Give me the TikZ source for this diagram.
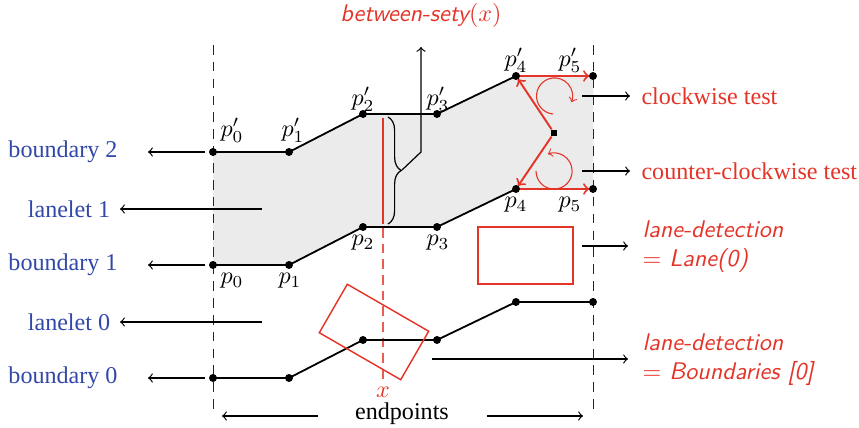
\documentclass[tikz,border=0pt]{standalone}
\usepackage{fontspec}
\setmainfont{Liberation Serif}
\usetikzlibrary{decorations.pathreplacing}
\definecolor{myblue}{RGB}{50,72,168}
\definecolor{myred}{RGB}{228,52,40}
\definecolor{lanegray}{RGB}{235,235,235}
\begin{document}
\begin{tikzpicture}[x=0.415pt,y=0.415pt,
  bnd/.style={line width=0.75pt},
  dotp/.style={fill=black},
  blbl/.style={text=myblue},
  rlbl/.style={text=myred},
  arr/.style={->,line width=0.5pt},
  rarr/.style={->,draw=myred,line width=0.8pt,shorten >=1.5pt},
  rarc/.style={->,draw=myred,line width=0.45pt},
  vdash/.style={draw=black!85,line width=0.4pt,dash pattern=on 4pt off 3pt},
  rsf/.style={font=\sffamily\itshape}]
\useasboundingbox (0,0) rectangle (859,428);

% boundary points
\coordinate (u0) at (213,276); \coordinate (u1) at (289,276);
\coordinate (u2) at (363,314); \coordinate (u3) at (437,314);
\coordinate (u4) at (516,352); \coordinate (u5) at (593,352);
\coordinate (m0) at (213,163); \coordinate (m1) at (289,163);
\coordinate (m2) at (363,201); \coordinate (m3) at (437,201);
\coordinate (m4) at (516,239); \coordinate (m5) at (593,239);
\coordinate (l0) at (213,50); \coordinate (l1) at (289,50);
\coordinate (l2) at (363,88); \coordinate (l3) at (437,88);
\coordinate (l4) at (516,126); \coordinate (l5) at (593,126);

% lanelet 1 fill
\fill[lanegray] (u0)--(u1)--(u2)--(u3)--(u4)--(u5)--(m5)--(m4)--(m3)--(m2)--(m1)--(m0)--cycle;

% dashed verticals
\coordinate (dlt) at (213,383); \coordinate (dlb) at (213,16);
\coordinate (drt) at (593,383); \coordinate (drb) at (593,16);
\draw[vdash] (dlt) -- (dlb);
\draw[vdash] (drt) -- (drb);

% left labels and arrows
\node[blbl] (bd2) at (63,276) {boundary 2};
\node[blbl] (ll1) at (69,219) {lanelet 1};
\node[blbl] (bd1) at (63,163) {boundary 1};
\node[blbl] (ll0) at (69,106) {lanelet 0};
\node[blbl] (bd0) at (63,50) {boundary 0};
\coordinate (bd2s) at (205,276); \coordinate (bd2e) at (148,276);
\coordinate (ll1s) at (262,219); \coordinate (ll1e) at (120,219);
\coordinate (bd1s) at (205,163); \coordinate (bd1e) at (148,163);
\coordinate (ll0s) at (262,106); \coordinate (ll0e) at (120,106);
\coordinate (bd0s) at (205,50); \coordinate (bd0e) at (148,50);
\draw[arr] (bd2s) -- (bd2e);
\draw[arr] (ll1s) -- (ll1e);
\draw[arr] (bd1s) -- (bd1e);
\draw[arr] (ll0s) -- (ll0e);
\draw[arr] (bd0s) -- (bd0e);

% between-sety
\draw[myred,line width=0.5pt] (383,310) -- (383,204);
\coordinate (xd1) at (383,200); \coordinate (xd2) at (383,48);
\draw[myred!80,line width=0.45pt,dash pattern=on 4pt off 2.5pt] (xd1) -- (xd2);
\node[rlbl] (xl) at (383,36) {$x$};
\draw[decorate,decoration={brace,amplitude=5.5pt},line width=0.5pt] (388,311) -- (388,204);
\coordinate (bt) at (402,258); \coordinate (bk) at (421,276); \coordinate (bu) at (421,381);
\draw[arr] (bt) -- (bk) -- (bu);
\node[rlbl] (bsl) at (421,413) {{\sffamily\itshape between-sety}$(x)$};

% boundaries
\draw[bnd] (u0)--(u1)--(u2)--(u3)--(u4)--(u5);
\draw[bnd] (m0)--(m1)--(m2)--(m3)--(m4)--(m5);
\draw[bnd] (l0)--(l1)--(l2)--(l3)--(l4)--(l5);

% rotated rectangle
\draw[myred,line width=0.6pt,rotate around={-30:(374,96)}] (327,68) rectangle (421,124);

% right red construction
\node[fill=black,inner sep=0pt,minimum size=2.6pt] (sq) at (554,295) {};
\draw[rarr] (u4) -- (u5);
\draw[rarr] (m4) -- (m5);
\draw[rarr] (sq) -- (u4);
\draw[rarr] (sq) -- (m4);
\draw[rarc] (553,314) arc[start angle=265,end angle=-20,radius=7.5pt];
\draw[rarc] (536,257) arc[start angle=180,end angle=470,radius=7.5pt];

% dots
\foreach \p in {u0,u1,u2,u3,u4,u5,m0,m1,m2,m3,m4,m5,l0,l1,l2,l3,l4,l5}
  \fill[dotp] (\p) circle[radius=1.65pt];

% point labels
\node (lu0) at (232,298) {$p_0'$};
\node (lu1) at (293,298) {$p_1'$};
\node (lu2) at (363,329) {$p_2'$};
\node (lu3) at (438,329) {$p_3'$};
\node (lu4) at (516,368) {$p_4'$};
\node (lu5) at (570,368) {$p_5'$};
\node (lm0) at (232,147) {$p_0$};
\node (lm1) at (290,147) {$p_1$};
\node (lm2) at (363,185) {$p_2$};
\node (lm3) at (438,185) {$p_3$};
\node (lm4) at (516,223) {$p_4$};
\node (lm5) at (570,223) {$p_5$};

% right labels
\coordinate (cws) at (582,332); \coordinate (cwe) at (630,332);
\coordinate (ccs) at (582,257); \coordinate (cce) at (630,257);
\draw[arr] (cws) -- (cwe);
\draw[arr] (ccs) -- (cce);
\node[rlbl,anchor=west] (cwl) at (633,332) {clockwise test};
\node[rlbl,anchor=west] (ccl) at (633,257) {counter-clockwise test};

\draw[myred,line width=0.6pt] (478,201) rectangle (573,144);
\coordinate (lds) at (582,182); \coordinate (lde) at (628,182);
\draw[arr] (lds) -- (lde);
\node[rlbl,anchor=west,align=left,rsf] (ldl) at (634,181) {lane-detection\\$=$ Lane(0)};
\coordinate (bds) at (432,69); \coordinate (bde) at (628,69);
\draw[arr] (bds) -- (bde);
\node[rlbl,anchor=west,align=left,rsf] (bdl) at (634,68) {lane-detection\\$=$ Boundaries [0]};

% endpoints
\node (ep) at (402,14) {endpoints};
\coordinate (el1) at (318,12); \coordinate (el2) at (222,12);
\coordinate (er1) at (487,12); \coordinate (er2) at (583,12);
\draw[arr] (el1) -- (el2);
\draw[arr] (er1) -- (er2);
\end{tikzpicture}
\end{document}
